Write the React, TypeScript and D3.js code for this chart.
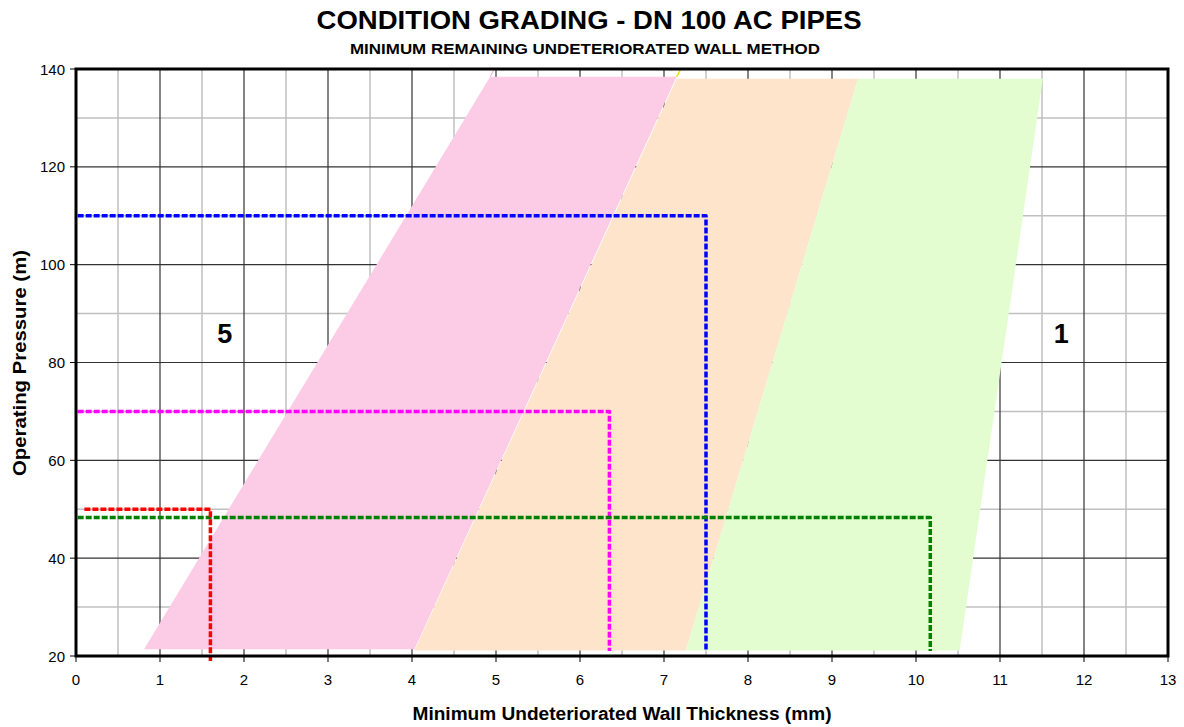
import React from "react";
import * as d3 from "d3";

const xTicks = [0, 1, 2, 3, 4, 5, 6, 7, 8, 9, 10, 11, 12, 13];
const yTicks = [20, 40, 60, 80, 100, 120, 140];
const xMinorGrid = [0.5, 1.5, 2.5, 3.5, 4.5, 5.5, 6.5, 7.5, 8.5, 9.5, 10.5, 11.5, 12.5];
const yMinorGrid = [30, 50, 70, 90, 110, 130];

// Grade zones (parallelograms): [thickness, pressure]
const pinkZone: [number, number][] = [[0.81, 21.4], [4.93, 138.4], [7.15, 138.4], [4.03, 21.4]];
const peachZone: [number, number][] = [[4.03, 21.1], [7.15, 138.0], [9.31, 138.0], [7.26, 21.1]];
const greenZone: [number, number][] = [[7.26, 21.1], [9.31, 138.0], [11.51, 138.0], [10.52, 21.1]];

// Pipe readings: horizontal from x0 at pressure, then down at thickness
const blueLine: [number, number][] = [[0.02, 110], [7.5, 110], [7.5, 21]];
const magentaLine: [number, number][] = [[0.02, 70], [6.35, 70], [6.35, 21]];
const redLine: [number, number][] = [[0.1, 50], [1.6, 50], [1.6, 19]];
const greenLine: [number, number][] = [[0.02, 48.3], [10.17, 48.3], [10.17, 21]];

const gradeLabels = [
  { text: "5", x: 1.77, y: 85.8 },
  { text: "1", x: 11.73, y: 85.8 },
];

export default function App() {
  const left = 76, right = 1168, top = 69, bottom = 656;
  const x = d3.scaleLinear().domain([0, 13]).range([left, right]);
  const y = d3.scaleLinear().domain([20, 140]).range([bottom, top]);
  const line = d3.line<[number, number]>().x(d => x(d[0])).y(d => y(d[1]));
  const font = "'Liberation Sans', Arial, Helvetica, sans-serif";

  const zone = (pts: [number, number][], fill: string) => (
    <path d={line(pts)! + "Z"} fill={fill} stroke="none" />
  );
  const dashed = (pts: [number, number][], color: string) => (
    <path d={line(pts)!} fill="none" stroke={color} strokeWidth={3.5} strokeDasharray="6,2" strokeLinejoin="round" />
  );

  return (
    <svg width={1184} height={727} style={{ position: "absolute", left: 0, top: 0, background: "#fff" }} fontFamily={font}>
      {/* minor grid */}
      {xMinorGrid.map(v => (
        <line key={"xm" + v} x1={x(v)} x2={x(v)} y1={top} y2={bottom} stroke="#c0c0c0" strokeWidth={1.5} />
      ))}
      {yMinorGrid.map(v => (
        <line key={"ym" + v} x1={left} x2={right} y1={y(v)} y2={y(v)} stroke="#c0c0c0" strokeWidth={1.5} />
      ))}
      {/* major grid */}
      {xTicks.map(v => (
        <line key={"xg" + v} x1={x(v)} x2={x(v)} y1={top} y2={bottom} stroke="#333" strokeWidth={1.2} />
      ))}
      {yTicks.map(v => (
        <line key={"yg" + v} x1={left} x2={right} y1={y(v)} y2={y(v)} stroke="#333" strokeWidth={1.2} />
      ))}
      {/* zones */}
      <g>
        {zone(pinkZone, "#fccbe5")}
        {zone(peachZone, "#fde4cb")}
        {zone(greenZone, "#e3fdd0")}
        <line x1={x(pinkZone[1][0])} y1={y(pinkZone[1][1])} x2={x(4.98)} y2={y(140)} stroke="#f7a6d0" strokeWidth={1} />
        <line x1={x(pinkZone[2][0])} y1={y(pinkZone[2][1])} x2={x(7.2)} y2={y(140)} stroke="#f0e000" strokeWidth={1.5} />
      </g>
      {/* reading lines */}
      {dashed(blueLine, "#0000ff")}
      {dashed(magentaLine, "#ff00ff")}
      {dashed(greenLine, "#008000")}
      {dashed(redLine, "#ff0000")}
      {/* grade labels */}
      {gradeLabels.map(l => (
        <text key={l.text} x={x(l.x)} y={y(l.y)} textAnchor="middle" dominantBaseline="central" fontSize={27} fontWeight="bold">{l.text}</text>
      ))}
      {/* frame */}
      <rect x={left} y={top} width={right - left} height={bottom - top} fill="none" stroke="#000" strokeWidth={3} />
      {/* y ticks */}
      {yTicks.map(v => (
        <g key={"yt" + v}>
          <line x1={left - 6} x2={left} y1={y(v)} y2={y(v)} stroke="#000" strokeWidth={1} />
          <text x={left - 11} y={y(v)} textAnchor="end" dominantBaseline="central" fontSize={15}>{v}</text>
        </g>
      ))}
      {/* x ticks */}
      {xTicks.map(v => (
        <g key={"xt" + v}>
          <line x1={x(v)} x2={x(v)} y1={bottom} y2={bottom + 6} stroke="#000" strokeWidth={1} />
          <text x={x(v)} y={bottom + 23} textAnchor="middle" dominantBaseline="central" fontSize={15}>{v}</text>
        </g>
      ))}
      {/* titles */}
      <text x={589} y={20} textAnchor="middle" dominantBaseline="central" fontSize={25} fontWeight="bold" textLength={545} lengthAdjust="spacingAndGlyphs">CONDITION GRADING - DN 100 AC PIPES</text>
      <text x={585} y={49} textAnchor="middle" dominantBaseline="central" fontSize={14} fontWeight="bold" textLength={470} lengthAdjust="spacingAndGlyphs">MINIMUM REMAINING UNDETERIORATED WALL METHOD</text>
      <text x={622} y={714} textAnchor="middle" dominantBaseline="central" fontSize={18} fontWeight="bold" textLength={419} lengthAdjust="spacingAndGlyphs">Minimum Undeteriorated Wall Thickness (mm)</text>
      <text transform={`translate(20,363) rotate(-90)`} textAnchor="middle" dominantBaseline="central" fontSize={18} fontWeight="bold" textLength={226} lengthAdjust="spacingAndGlyphs">Operating Pressure (m)</text>
    </svg>
  );
}
